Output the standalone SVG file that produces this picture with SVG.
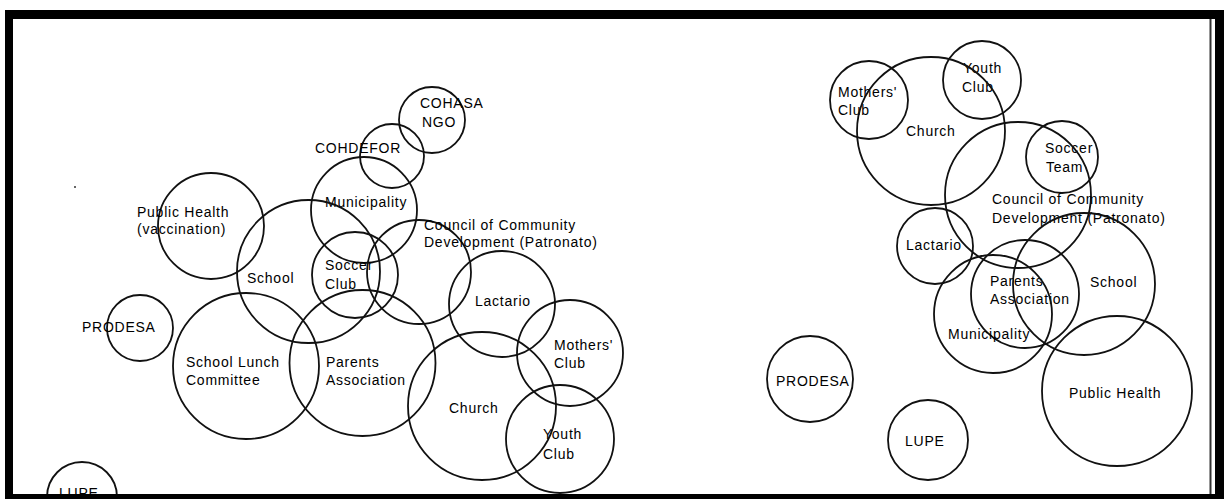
<svg xmlns="http://www.w3.org/2000/svg" width="1224" height="499" viewBox="0 0 1224 499">
  <style>
    .ring { fill: none; stroke: #111; stroke-width: 1.8; }
    .lbl { font-family: "Liberation Sans", Arial, sans-serif; font-size: 14px; letter-spacing: 0.75px; fill: #000; }
    .bar { fill: #000; }
  </style>

  <rect x="0" y="0" width="1224" height="499" fill="#fff"/>

  <!-- Left panel: community organisations -->
  <g id="left-panel">
    <g id="L-cohasa"><circle class="ring" cx="432" cy="120" r="33"/><text class="lbl" x="420" y="108">COHASA</text><text class="lbl" x="422" y="127">NGO</text></g>
    <g id="L-cohdefor"><circle class="ring" cx="392" cy="156" r="32"/><text class="lbl" x="315" y="153">COHDEFOR</text></g>
    <g id="L-municipality"><circle class="ring" cx="364" cy="210" r="53"/><text class="lbl" x="325" y="207">Municipality</text></g>
    <g id="L-public-health"><circle class="ring" cx="211" cy="226" r="53"/><text class="lbl" x="137" y="217">Public Health</text><text class="lbl" x="137" y="234">(vaccination)</text></g>
    <g id="L-school"><circle class="ring" cx="308.5" cy="271.5" r="71.5"/><text class="lbl" x="247" y="283">School</text></g>
    <g id="L-soccer-club"><circle class="ring" cx="355" cy="275" r="43"/><text class="lbl" x="325" y="270">Soccer</text><text class="lbl" x="325" y="289">Club</text></g>
    <g id="L-council"><circle class="ring" cx="419" cy="272" r="52"/><text class="lbl" x="424" y="230">Council of Community</text><text class="lbl" x="424" y="247">Development (Patronato)</text></g>
    <g id="L-lactario"><circle class="ring" cx="502" cy="304" r="53"/><text class="lbl" x="475" y="306">Lactario</text></g>
    <g id="L-prodesa"><circle class="ring" cx="140" cy="328" r="33"/><text class="lbl" x="82" y="332">PRODESA</text></g>
    <g id="L-school-lunch"><circle class="ring" cx="246" cy="366" r="73"/><text class="lbl" x="186" y="367">School Lunch</text><text class="lbl" x="186" y="385">Committee</text></g>
    <g id="L-parents"><circle class="ring" cx="362.5" cy="363" r="73"/><text class="lbl" x="326" y="367">Parents</text><text class="lbl" x="326" y="385">Association</text></g>
    <g id="L-mothers-club"><circle class="ring" cx="570" cy="353" r="53"/><text class="lbl" x="554" y="350">Mothers'</text><text class="lbl" x="554" y="368">Club</text></g>
    <g id="L-church"><circle class="ring" cx="482" cy="406" r="74"/><text class="lbl" x="449" y="413">Church</text></g>
    <g id="L-youth-club"><circle class="ring" cx="560" cy="439" r="54"/><text class="lbl" x="543" y="439">Youth</text><text class="lbl" x="543" y="459">Club</text></g>
    <g id="L-lupe"><circle class="ring" cx="82" cy="497" r="35"/><text class="lbl" x="59" y="498">LUPE</text></g>
    <circle cx="75" cy="187" r="1" fill="#333"/>
  </g>

  <!-- Right panel: community organisations -->
  <g id="right-panel">
    <g id="R-mothers-club"><circle class="ring" cx="869" cy="100" r="39"/><text class="lbl" x="838" y="97">Mothers'</text><text class="lbl" x="838" y="115">Club</text></g>
    <g id="R-youth-club"><circle class="ring" cx="982" cy="80" r="39"/><text class="lbl" x="963" y="73">Youth</text><text class="lbl" x="962" y="92">Club</text></g>
    <g id="R-church"><circle class="ring" cx="931" cy="131" r="74"/><text class="lbl" x="906" y="136">Church</text></g>
    <g id="R-soccer-team"><circle class="ring" cx="1062" cy="157" r="36"/><text class="lbl" x="1045" y="153">Soccer</text><text class="lbl" x="1046" y="172">Team</text></g>
    <g id="R-council"><circle class="ring" cx="1018" cy="195" r="73"/><text class="lbl" x="992" y="204">Council of Community</text><text class="lbl" x="992" y="223">Development (Patronato)</text></g>
    <g id="R-lactario"><circle class="ring" cx="935" cy="246" r="38"/><text class="lbl" x="906" y="250">Lactario</text></g>
    <g id="R-school"><circle class="ring" cx="1084" cy="284" r="71"/><text class="lbl" x="1090" y="287">School</text></g>
    <g id="R-parents"><circle class="ring" cx="1025" cy="294" r="54"/><text class="lbl" x="990" y="286">Parents</text><text class="lbl" x="990" y="304">Association</text></g>
    <g id="R-municipality"><circle class="ring" cx="993" cy="314" r="59"/><text class="lbl" x="948" y="339">Municipality</text></g>
    <g id="R-public-health"><circle class="ring" cx="1117" cy="391" r="75"/><text class="lbl" x="1069" y="398">Public Health</text></g>
    <g id="R-prodesa"><circle class="ring" cx="810" cy="379" r="43"/><text class="lbl" x="776" y="386">PRODESA</text></g>
    <g id="R-lupe"><circle class="ring" cx="928" cy="440" r="40"/><text class="lbl" x="905" y="446">LUPE</text></g>
  </g>

  <!-- Frame -->
  <g id="frame">
    <rect class="bar" x="5" y="10" width="1219" height="9"/>
    <rect class="bar" x="5" y="10" width="8" height="489"/>
    <rect class="bar" x="1215" y="10" width="9" height="489"/>
    <rect class="bar" x="5" y="494" width="1219" height="5"/>
    <rect x="1209.5" y="19" width="2" height="475" fill="#333"/>
  </g>
</svg>
